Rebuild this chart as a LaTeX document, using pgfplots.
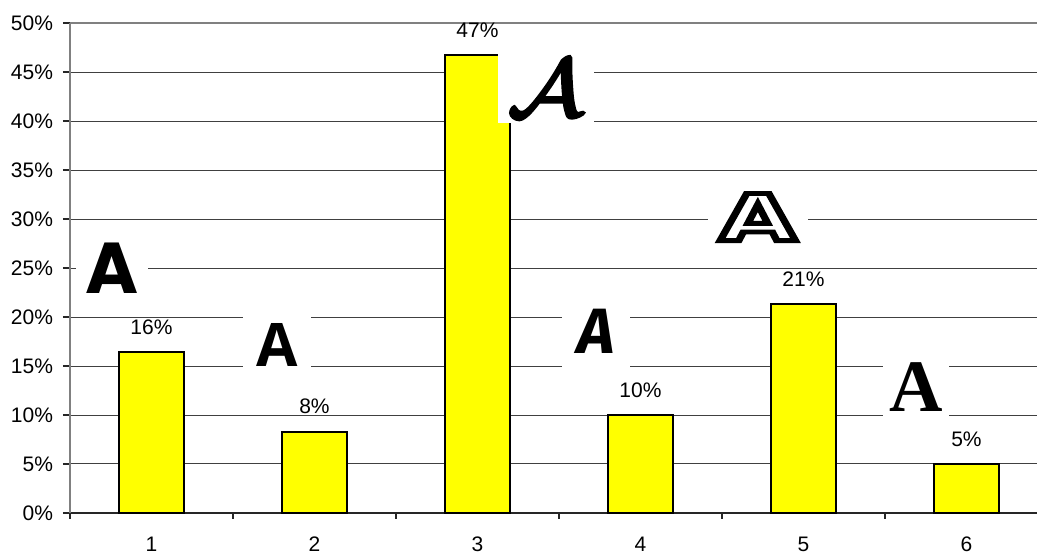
\documentclass[border=0pt]{standalone}
\usepackage{fontspec}
\setmainfont{Liberation Sans}
\newfontfamily\fPop{Poppins}
\newfontfamily\fOpen{Open Sans}
\newfontfamily\fDejaVu{DejaVu Sans}
\newfontfamily\fSerif{Liberation Serif}
\newfontfamily\fFira{Fira Sans}
\usepackage{pgfplots}
\pgfplotsset{compat=1.18}
\definecolor{baryellow}{RGB}{255,255,0}
\newcommand{\strokeon}[2]{\special{pdf:literal direct 0 G #1 Tr #2 w}}
\newcommand{\strokeoff}{\special{pdf:literal direct 0 Tr}}
\newcommand{\scriptA}{\scalebox{1.9}[1.65]{\fontsize{24.88}{26}\selectfont\strokeon{2}{0.9}$\mathcal{A}$\strokeoff}}
\newcommand{\wideA}{\scalebox{1.45}[0.95]{\fDejaVu\bfseries\fontsize{34}{34}\selectfont\strokeon{1}{2.6}A\strokeoff}}
\begin{document}
\begin{tikzpicture}
\useasboundingbox (-35pt,-21.5pt) rectangle (484pt,256.5pt);
\begin{axis}[
  at={(0pt,0pt)}, anchor=south west,
  scale only axis, width=483.5pt, height=245pt,
  xmin=0.5, xmax=6.433, ymin=0, ymax=50,
  axis x line*=bottom, axis y line*=left,
  x axis line style={black!85, line width=0.6pt, -},
  y axis line style={gray, line width=1pt, -},
  xtick={1,2,3,4,5,6},
  minor xtick={0.5,1.5,2.5,3.5,4.5,5.5},
  major x tick style={draw=none},
  minor x tick style={black!85, line width=0.6pt},
  minor tick length=3pt,
  tick align=outside,
  ytick={0,5,...,50},
  major y tick style={black!85, line width=0.6pt},
  major tick length=3.5pt,
  yticklabel={\pgfmathprintnumber{\tick}\%},
  ymajorgrids,
  major grid style={black!75, line width=0.5pt},
  tick label style={font=\fontsize{10.5}{12}\selectfont},
  /pgf/number format/assume math mode=true,
  xticklabel style={yshift=-5pt},
  yticklabel style={xshift=-1.5pt},
  ybar, bar width=32.5pt,
  nodes near coords={\pgfmathprintnumber[fixed,precision=0]{\pgfplotspointmeta}\%},
  every node near coord/.append style={font=\fontsize{10.5}{12}\selectfont, anchor=south, yshift=5pt},
  clip=false,
]
\addplot[fill=baryellow, draw=black, line width=1pt] coordinates {
  (1,16.4) (2,8.3) (3,46.7) (4,10.0) (5,21.3) (6,5.0)
};
\draw[gray, line width=1pt] (axis cs:0.5,50) -- (axis cs:6.433,50);
% letter A pictures
\node[fill=white, inner sep=4pt, minimum width=36pt, minimum height=32pt] at (axis cs:0.76,25.0) {\fPop\bfseries\fontsize{36}{36}\selectfont A};
\node[fill=white, inner sep=4pt, minimum width=34pt, minimum height=33pt] at (axis cs:1.77,17.1) {\fOpen\bfseries\fontsize{30}{30}\selectfont A};
\node[fill=white, inner sep=0pt, minimum width=48pt, minimum height=35pt] at (axis cs:3.42,43.4) {\scriptA};
\node[fill=white, inner sep=4pt, minimum width=34pt, minimum height=40pt] at (axis cs:3.73,18.5) {\fFira\bfseries\itshape\fontsize{32}{32}\selectfont A};
\node[fill=white, inner sep=0pt, minimum width=50pt, minimum height=33pt] at (axis cs:4.72,30.2) {\wideA};
\node[fill=white, inner sep=3pt, minimum width=33pt, minimum height=33pt] at (axis cs:5.69,12.8) {\fSerif\bfseries\fontsize{37}{37}\selectfont A};
\end{axis}
\end{tikzpicture}
\end{document}
